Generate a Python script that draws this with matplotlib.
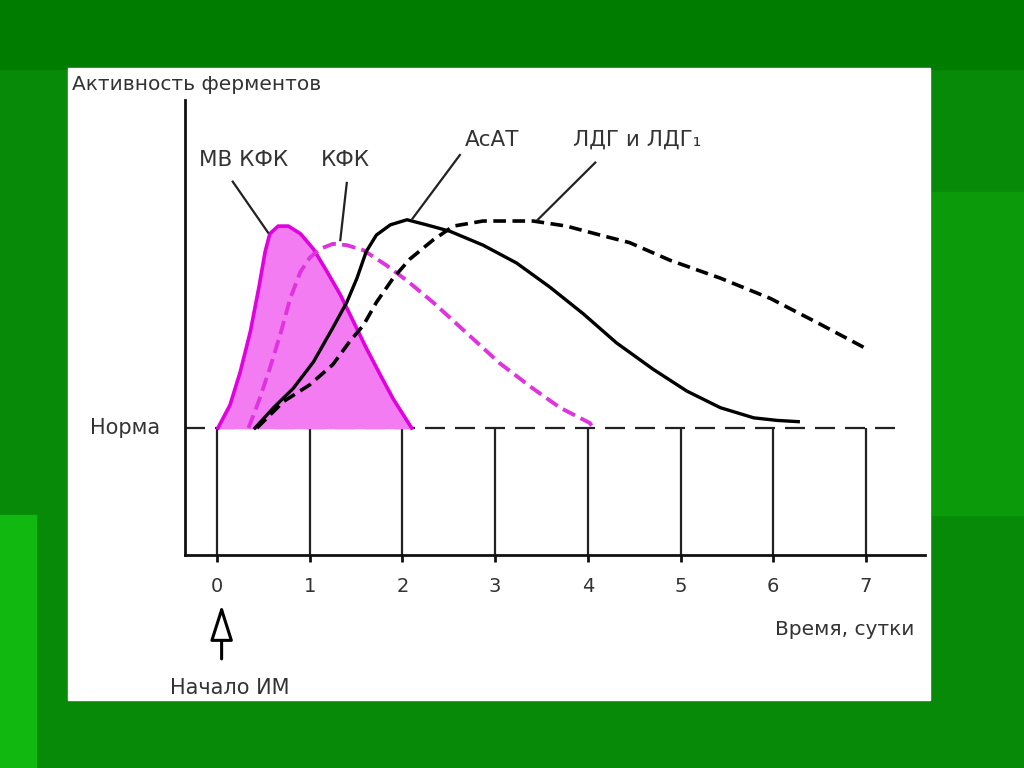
import matplotlib.pyplot as plt
from matplotlib.patches import Rectangle

# time in days, activity in units of the norm level (norm = 1, axis = 0)
mb_kfk_t = [0.01, 0.14, 0.25, 0.36, 0.45, 0.52, 0.57, 0.66, 0.77, 0.90, 1.04, 1.18,
            1.33, 1.47, 1.61, 1.76, 1.90, 2.03, 2.10]
mb_kfk_a = [1.00, 1.18, 1.44, 1.76, 2.10, 2.39, 2.53, 2.59, 2.59, 2.53, 2.41, 2.24,
            2.05, 1.84, 1.63, 1.42, 1.23, 1.08, 1.00]

kfk_t = [0.34, 0.45, 0.57, 0.68, 0.79, 0.90, 1.00, 1.11, 1.25, 1.40, 1.58, 1.83,
         2.05, 2.33, 2.69, 3.05, 3.41, 3.70, 4.02, 4.06]
kfk_a = [1.00, 1.21, 1.47, 1.73, 2.02, 2.23, 2.34, 2.41, 2.45, 2.44, 2.40, 2.28,
         2.16, 1.99, 1.75, 1.51, 1.31, 1.16, 1.04, 1.00]

asat_t = [0.41, 0.61, 0.82, 1.04, 1.25, 1.40, 1.51, 1.61, 1.72, 1.87, 2.05, 2.26,
          2.51, 2.87, 3.23, 3.59, 3.95, 4.31, 4.71, 5.07, 5.43, 5.79, 6.04, 6.27]
asat_a = [1.00, 1.16, 1.31, 1.52, 1.79, 1.99, 2.18, 2.39, 2.52, 2.60, 2.64, 2.60,
          2.55, 2.44, 2.30, 2.11, 1.90, 1.67, 1.46, 1.29, 1.16, 1.08, 1.06, 1.05]

ldg_t = [0.43, 0.72, 1.00, 1.25, 1.43, 1.58, 1.72, 1.90, 2.08, 2.33, 2.55, 2.87,
         3.41, 3.77, 4.13, 4.45, 4.89, 5.43, 5.97, 6.50, 6.99]
ldg_a = [1.00, 1.21, 1.34, 1.50, 1.68, 1.81, 1.99, 2.18, 2.33, 2.48, 2.59, 2.63,
         2.63, 2.59, 2.52, 2.46, 2.32, 2.18, 2.02, 1.82, 1.63]

days = [0, 1, 2, 3, 4, 5, 6, 7]
norm_level = 1.0

labels = ['МВ КФК', 'КФК', 'АсАТ', 'ЛДГ и ЛДГ₁']
label_pos = [(0.29, 3.11), (1.38, 3.11), (2.97, 3.27), (4.53, 3.27)]
leader_start = [(0.17, 2.94), (1.40, 2.93), (2.62, 3.15), (4.08, 3.09)]
leader_end = [(0.55, 2.54), (1.33, 2.48), (2.11, 2.65), (3.46, 2.64)]

plt.rcParams['font.family'] = ['DejaVu Sans']
TXT = '#333333'

fig = plt.figure(figsize=(10.24, 7.68), dpi=100)
fig.patch.set_facecolor('#078a07')
# slide background bands
fig.patches.append(Rectangle((0, 0.91), 1, 0.09, transform=fig.transFigure, color='#007c00', zorder=-3))
fig.patches.append(Rectangle((0.0, 0.0), 0.035, 0.33, transform=fig.transFigure, color='#10b810', zorder=-3))
fig.patches.append(Rectangle((0.91, 0.33), 0.09, 0.42, transform=fig.transFigure, color='#0a9a0a', zorder=-3))
# white panel
fig.patches.append(Rectangle((68 / 1024, 1 - 700 / 768), 862 / 1024, 632 / 768,
                             transform=fig.transFigure, color='white', zorder=-2))

ax = fig.add_axes([185 / 1024, 1 - 555 / 768, 740 / 1024, 455 / 768])
ax.set_zorder(2)
ax.set_facecolor('none')
ax.set_xlim(-0.345, 7.637)
ax.set_ylim(0, 3.583)
for s in ['top', 'right']:
    ax.spines[s].set_visible(False)
for s in ['left', 'bottom']:
    ax.spines[s].set_linewidth(2.0)
    ax.spines[s].set_color('#111111')
ax.set_yticks([])
ax.set_xticks(days)
ax.set_xticklabels([str(d) for d in days], fontsize=14, color=TXT)
ax.tick_params(axis='x', length=5, width=2, pad=11, color='#111111')

# vertical day lines and norm line
ax.vlines(days, 0, norm_level, color='#222222', lw=1.6)
ax.plot([-0.345, 7.32], [norm_level, norm_level], color='#222222', lw=1.6,
        dashes=(9, 4.5))

# curves
ax.fill_between(mb_kfk_t, norm_level, mb_kfk_a, color='#f47cf2', zorder=2)
ax.plot(mb_kfk_t, mb_kfk_a, color='#e000e0', lw=2.6, zorder=3, solid_joinstyle='round')
ax.plot(kfk_t, kfk_a, color='#e033e0', lw=2.8, dashes=(3.5, 1.6), zorder=4)
ax.plot(asat_t, asat_a, color='black', lw=2.4, zorder=5, solid_joinstyle='round')
ax.plot(ldg_t, ldg_a, color='black', lw=2.6, dashes=(3.5, 1.8), zorder=5)

# labels and leaders
for lab, pos, p0, p1 in zip(labels, label_pos, leader_start, leader_end):
    ax.text(pos[0], pos[1], lab, ha='center', va='center', fontsize=15.5, color=TXT, clip_on=False)
    ax.plot([p0[0], p1[0]], [p0[1], p1[1]], color='#222222', lw=1.6, clip_on=False, zorder=6)

ax.text(-0.61, norm_level, 'Норма', ha='right', va='center', fontsize=15, color=TXT, clip_on=False)
ax.text(6.77, -0.59, 'Время, сутки', ha='center', va='center', fontsize=14.5, color=TXT, clip_on=False)
ax.text(0.14, -1.05, 'Начало ИМ', ha='center', va='center', fontsize=15, color=TXT, clip_on=False)
ax.annotate('', xy=(0.05, -0.37), xytext=(0.05, -0.84), annotation_clip=False,
            arrowprops=dict(arrowstyle='-|>,head_width=0.7,head_length=2.2',
                            fc='white', ec='black', lw=2.2))

fig.text(72 / 1024, 1 - 85 / 768, 'Активность ферментов', ha='left', va='center',
         fontsize=14.5, color=TXT)

fig.savefig('out.png', dpi=100, facecolor=fig.get_facecolor())
